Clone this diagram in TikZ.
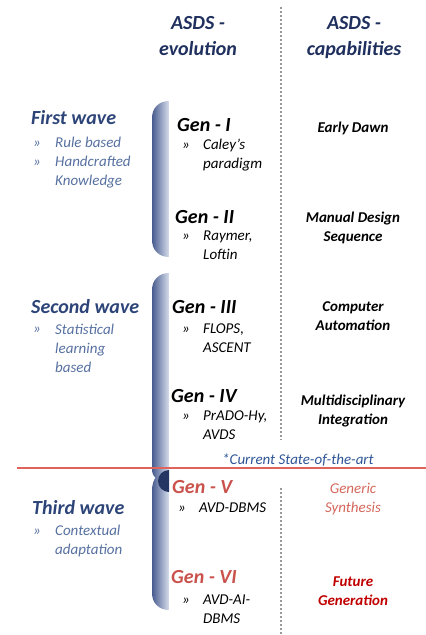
\documentclass[tikz,border=0pt]{standalone}
\usepackage{fontspec}
\setmainfont{Carlito}
\usepackage{xcolor}
\usepackage{tikz}

\definecolor{navy}{HTML}{1F2F5E}
\definecolor{wavecol}{HTML}{2C4478}
\definecolor{wavetxt}{HTML}{5670A0}
\definecolor{genred}{HTML}{C9534C}
\definecolor{synred}{HTML}{D4685C}
\definecolor{futred}{HTML}{C00000}
\definecolor{statecol}{HTML}{2F5597}
\definecolor{barl}{HTML}{3F5489}
\definecolor{barr}{HTML}{D5DCEA}
\definecolor{splitred}{RGB}{222,100,92}

% one bracket bar, filled left to right from barl to barr
\newcommand{\wavebar}[2]{%
  \begin{scope}
    \clip #2;
    \foreach \k in {0,...,17}
      {\pgfmathtruncatemacro{\mix}{100-\k*5.6}
       \fill[barl!\mix!barr] (151+\k,#1) rectangle (152.1+\k,635);}
  \end{scope}}

\begin{document}
\begin{tikzpicture}
  [x=1pt,y=-1pt,every node/.style={inner sep=0pt},
   hdr/.style={font=\fontsize{20}{26}\selectfont\bfseries\itshape, text=navy, align=center, anchor=base},
   wave/.style={font=\fontsize{20}{24}\selectfont\bfseries\itshape, text=wavecol, anchor=base west},
   wavetxt/.style={font=\fontsize{15}{19}\selectfont\itshape, text=wavetxt, align=left, anchor=base west},
   gen/.style={font=\fontsize{20}{24}\selectfont\bfseries\itshape, anchor=base west},
   gentxt/.style={font=\fontsize{15}{19}\selectfont\itshape, align=left, anchor=base west},
   capab/.style={font=\fontsize{15}{19}\selectfont\bfseries\itshape, align=center, anchor=base},
   divider/.style={draw=gray!80, line width=1.6pt, dash pattern=on 2pt off 2pt},
   split/.style={draw=splitred, line width=2pt}]
  \useasboundingbox (0,0) rectangle (426,635);

  % brackets
  \wavebar{100}{(169,101) -- (169,257) .. controls (159,257) and (152,250) .. (152,240)
    -- (152,118) .. controls (152,108) and (159,101) .. (169,101)}
  \wavebar{272}{(169,273) -- (169,482) .. controls (160,482) and (152,478) .. (152,470)
    -- (152,290) .. controls (152,280) and (159,273) .. (169,273)}
  \wavebar{469}{(169,470) -- (169,610) .. controls (159,610) and (152,603) .. (152,593)
    -- (152,490) .. controls (152,479) and (159,470) .. (169,470)}
  \fill[navy!85!barl] (169,470) arc (270:90:11);

  % dividers
  \coordinate (d1) at (281,7);
  \coordinate (d2) at (281,440);
  \coordinate (d3) at (281,488);
  \coordinate (d4) at (281,635);
  \draw[divider] (d1) -- (d2);
  \draw[divider] (d3) -- (d4);

  % split between second and third wave
  \coordinate (r1) at (17,467.5);
  \coordinate (r2) at (426,467.5);
  \draw[split] (r1) -- (r2);

  % headers (base = last line)
  \node[hdr] (hevo) at (198,55) {ASDS -\\evolution};
  \node[hdr] (hcap) at (354,55) {ASDS -\\capabilities};

  % waves
  \node[wave] (w1) at (31,124) {First wave};
  \node[wavetxt] (w1b1) at (33,147) {»};
  \node[wavetxt] (w1t1) at (55,147) {Rule based};
  \node[wavetxt] (w1b2) at (33,166) {»};
  \node[wavetxt] (w1t2) at (55,185) {Handcrafted\\Knowledge};

  \node[wave] (w2) at (31,313) {Second wave};
  \node[wavetxt] (w2b1) at (33,333) {»};
  \node[wavetxt] (w2t1) at (55,372) {Statistical\\learning\\based};

  \node[wave] (w3) at (32,514) {Third wave};
  \node[wavetxt] (w3b1) at (33,535) {»};
  \node[wavetxt] (w3t1) at (55,554) {Contextual\\adaptation};

  % generations
  \node[gen] (g1) at (177,131) {Gen - I};
  \node[gentxt] (g1b) at (182,149) {»};
  \node[gentxt] (g1t) at (203,168) {Caley's\\paradigm};

  \node[gen] (g2) at (175,223) {Gen - II};
  \node[gentxt] (g2b) at (182,240) {»};
  \node[gentxt] (g2t) at (203,259) {Raymer,\\Loftin};

  \node[gen] (g3) at (172,313) {Gen - III};
  \node[gentxt] (g3b) at (182,333) {»};
  \node[gentxt] (g3t) at (203,352) {FLOPS,\\ASCENT};

  \node[gen] (g4) at (171,402) {Gen - IV};
  \node[gentxt] (g4b) at (182,420) {»};
  \node[gentxt] (g4t) at (203,439) {PrADO-Hy,\\AVDS};

  \node[gen, text=genred] (g5) at (172,493) {Gen - V};
  \node[gentxt] (g5b) at (178,512) {»};
  \node[gentxt] (g5t) at (199,512) {AVD-DBMS};

  \node[gen, text=genred] (g6) at (171,583) {Gen - VI};
  \node[gentxt] (g6b) at (182,604) {»};
  \node[gentxt] (g6t) at (203,623) {AVD-AI-\\DBMS};

  \node[gentxt, text=statecol] (state) at (222,464) {*Current State-of-the-art};

  % capabilities
  \node[capab] (c1) at (353,132) {Early Dawn};
  \node[capab] (c2) at (353,241) {Manual Design\\Sequence};
  \node[capab] (c3) at (353,330) {Computer\\Automation};
  \node[capab] (c4) at (353,424) {Multidisciplinary\\Integration};
  \node[capab, font=\fontsize{15}{19}\selectfont\itshape, text=synred] (c5) at (353,512) {Generic\\Synthesis};
  \node[capab, text=futred] (c6) at (353,605) {Future\\Generation};

\end{tikzpicture}
\end{document}
